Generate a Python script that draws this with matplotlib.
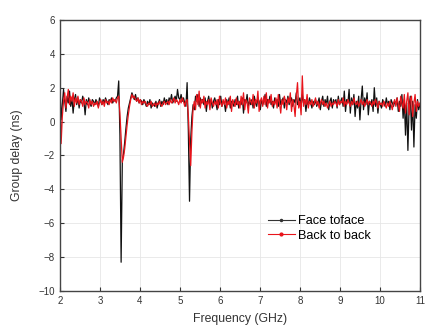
import numpy as np
import matplotlib
matplotlib.use("Agg")
import matplotlib.pyplot as plt
from matplotlib.lines import Line2D

plt.rcParams['font.family'] = ['Liberation Sans', 'DejaVu Sans']

# Frequency sampling grid (GHz), 0.03 GHz step
freq = np.linspace(2.0, 11.0, 301)

face_to_face = [
    2.3, 0.1, 1.0, 1.9, 1.2, 0.6, 1.5, 1.1, 1.8, 0.9,
    1.4, 0.5, 1.3, 1.6, 1.0, 1.4, 0.8, 1.3, 1.1, 1.5,
    1.2, 0.4, 1.3, 1.0, 1.4, 1.1, 0.9, 1.3, 1.2, 1.0,
    1.3, 1.1, 0.9, 1.4, 1.2, 1.0, 1.3, 1.1, 1.4, 1.2,
    1.0, 1.3, 1.2, 1.4, 1.1, 1.3, 1.2, 1.4, 1.5, 2.4,
    -0.8, -8.3, -2.3, -1.9, -1.2, -0.4, 0.3, 0.8, 1.1, 1.4,
    1.7, 1.5, 1.3, 1.6, 1.2, 1.4, 1.1, 1.3, 1.2, 1.0,
    1.3, 1.1, 0.9, 1.2, 1.0, 1.3, 0.8, 1.1, 1.0, 0.9,
    1.2, 0.8, 1.1, 1.3, 0.9, 1.2, 1.0, 1.4, 1.1, 1.3,
    1.0, 1.4, 1.2, 1.6, 1.1, 1.3, 1.5, 1.2, 1.9, 1.4,
    1.3, 1.6, 1.2, 1.4, 1.1, 0.9, 2.3, -0.5, -4.7, -1.0,
    0.3, 1.0, 0.7, 1.5, 1.2, 1.6, 0.9, 1.4, 1.1, 1.3,
    1.0, 1.4, 0.6, 1.2, 1.5, 1.0, 1.3, 0.8, 1.2, 1.4,
    1.1, 0.7, 1.3, 1.0, 1.5, 0.9, 1.2, 1.1, 0.6, 1.3,
    1.0, 1.4, 0.8, 1.2, 1.1, 0.9, 1.3, 1.0, 1.5, 0.8,
    1.2, 1.0, 1.4, 0.5, 1.3, 1.1, 1.6, 0.9, 1.2, 1.0,
    1.3, 0.8, 1.5, 1.1, 0.9, 1.4, 1.2, 0.7, 1.3, 1.0,
    1.2, 1.6, 0.9, 1.3, 1.1, 1.5, 1.0, 1.2, 0.8, 1.4,
    1.1, 1.3, 0.9, 1.6, 1.0, 1.2, 1.4, 0.8, 1.3, 1.1,
    1.5, 1.0, 1.2, 1.4, 0.9, 1.3, 1.1, 1.7, 1.0, 1.2,
    1.4, 0.9, 1.6, 1.1, 1.3, 0.6, 1.2, 1.0, 1.4, 1.1,
    0.8, 1.2, 1.0, 1.3, 0.9, 1.1, 1.4, 0.7, 1.2, 1.5,
    0.9, 1.3, 1.0, 1.5, 0.7, 1.2, 1.4, 0.8, 1.3, 1.1,
    1.3, 0.8, 1.5, 1.0, 1.2, 1.4, 0.9, 1.8, 0.6, 1.3,
    1.1, 1.9, 0.5, 1.4, 1.0, 1.6, 0.3, 1.2, 0.8, 1.5,
    0.1, 1.3, 2.1, 0.7, 1.4, 1.0, 1.7, 0.4, 1.2, 1.0,
    1.3, 0.6, 2.0, 0.9, 1.4, 0.5, 1.2, 1.0, 0.8, 1.3,
    1.1, 0.9, 1.4, 1.0, 1.2, 0.7, 1.3, 1.1, 0.9, 1.2,
    1.0, 1.4, 0.6, 1.2, 0.9, 1.6, 0.2, 1.3, -0.8, 1.1,
    -1.7, 0.9, 1.5, -0.5, 1.2, -1.5, 1.0, 0.2, 1.3, 0.7, 1.0,
]

back_to_back = [
    1.6, -1.3, 0.3, 1.2, 1.7, 0.8, 1.4, 1.9, 1.0, 1.5,
    1.2, 1.7, 0.9, 1.4, 1.1, 1.5, 1.0, 1.3, 1.2, 0.9,
    1.4, 1.0, 1.2, 1.1, 0.8, 1.3, 1.0, 1.2, 0.9, 1.1,
    1.0, 1.2, 0.8, 1.1, 1.3, 1.0, 1.2, 0.9, 1.3, 1.1,
    1.2, 1.0, 1.3, 1.1, 1.4, 1.2, 1.3, 1.1, 1.4, 1.5,
    0.5, -1.0, -2.4, -2.1, -1.6, -0.9, -0.2, 0.4, 0.9, 1.3,
    1.6, 1.4, 1.5, 1.3, 1.2, 1.4, 1.1, 1.3, 1.0, 1.2,
    1.1, 1.2, 1.0, 0.9, 1.1, 1.0, 1.2, 0.9, 1.0, 1.1,
    0.9, 1.1, 1.0, 1.2, 1.0, 0.9, 1.1, 1.2, 1.0, 1.1,
    1.2, 1.0, 1.3, 1.1, 1.2, 1.4, 1.1, 1.3, 1.2, 1.0,
    1.3, 1.1, 1.4, 1.2, 0.9, 1.2, 1.3, 0.4, -1.2, -2.6,
    -0.6, 0.8, 1.2, 0.7, 1.6, 1.0, 1.8, 0.8, 1.3, 1.1,
    1.5, 0.8, 1.2, 1.0, 1.3, 0.7, 1.4, 1.1, 0.9, 1.2,
    1.0, 1.3, 0.8, 1.5, 1.1, 0.9, 1.3, 1.0, 1.4, 0.8,
    1.2, 1.0, 1.5, 0.6, 1.3, 1.1, 0.9, 1.4, 1.0, 1.2,
    0.8, 1.5, 1.0, 1.7, 0.7, 1.3, 1.1, 0.5, 1.4, 1.2,
    1.0, 1.6, 0.8, 1.3, 1.1, 1.8, 0.6, 1.2, 1.4, 0.9,
    1.5, 1.0, 1.7, 0.8, 1.3, 1.1, 1.6, 0.9, 1.2, 1.0,
    1.4, 0.8, 1.6, 1.1, 0.5, 1.3, 1.0, 1.5, 1.2, 0.7,
    1.4, 1.1, 1.7, 0.6, 1.3, 1.0, 0.3, 1.5, 2.3, 0.8,
    1.2, 0.4, 2.7, 0.9, 1.3, 1.0, 1.6, 0.8, 1.2, 1.0,
    1.3, 0.9, 1.1, 1.4, 1.0, 1.2, 0.8, 1.1, 1.3, 1.0,
    1.2, 0.9, 1.1, 0.8, 1.0, 1.2, 0.9, 1.1, 1.0, 1.2,
    1.1, 0.9, 1.3, 1.0, 1.2, 1.1, 1.4, 0.9, 1.2, 1.0,
    1.3, 1.1, 0.9, 1.2, 1.0, 1.4, 1.1, 1.0, 1.2, 0.9,
    1.1, 1.3, 1.0, 1.2, 0.9, 1.1, 1.3, 1.0, 1.2, 1.1,
    0.9, 1.2, 1.0, 1.3, 1.1, 0.8, 1.2, 1.0, 1.1, 0.9,
    1.2, 1.0, 0.8, 1.1, 0.9, 1.2, 1.0, 0.7, 1.1, 1.3,
    0.9, 1.4, 1.0, 0.6, 1.5, 1.1, 0.8, 1.6, 0.5, 1.2,
    1.7, 0.4, 1.3, 1.5, 0.3, 1.1, 1.6, 0.6, 1.2, 0.9, 1.1,
]

series_labels = ["Face toface", "Back to back"]
x_ticks = [2, 3, 4, 5, 6, 7, 8, 9, 10, 11]
y_ticks = [-10, -8, -6, -4, -2, 0, 2, 4, 6]

fig = plt.figure(figsize=(4.25, 3.27), dpi=100)
ax = fig.add_axes([0.141, 0.110, 0.847, 0.829])

ax.plot(freq, face_to_face, color="#111111", lw=0.9)
ax.plot(freq, back_to_back, color="#e8141b", lw=0.9)

ax.set_xlim(2, 11)
ax.set_ylim(-10, 6)
ax.set_xticks(x_ticks)
ax.set_yticks(y_ticks)
ax.grid(True, color="#e6e6e6", lw=0.6)
ax.set_axisbelow(True)
ax.tick_params(direction="in", length=3, width=0.8, labelsize=7, colors="#333333")
for s in ax.spines.values():
    s.set_color("#444444")
    s.set_linewidth(1.0)

ax.set_xlabel("Frequency (GHz)", fontsize=8.8, color="#333333", labelpad=5)
ax.set_ylabel("Group delay (ns)", fontsize=8.8, color="#333333", labelpad=11)

handles = [
    Line2D([], [], color="#333333", lw=0.8, marker="o", markersize=1.5),
    Line2D([], [], color="#e8141b", lw=0.8, marker="o", markersize=2),
]
ax.legend(handles, series_labels, loc="center left", bbox_to_anchor=(0.578, 0.23),
          frameon=False, fontsize=9.2, handlelength=2.1, handletextpad=0.25,
          labelspacing=0.2, borderpad=0, borderaxespad=0)

fig.savefig("out.png", dpi=100)
